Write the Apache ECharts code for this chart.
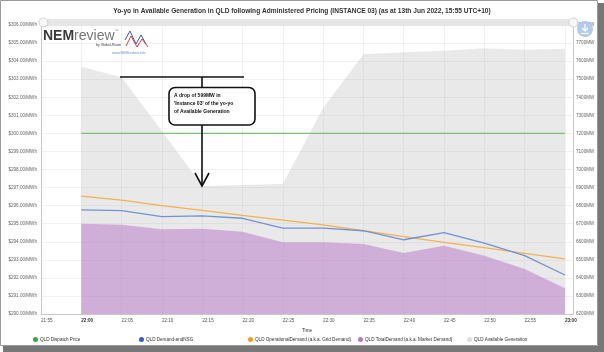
<!DOCTYPE html>
<html>
<head>
<meta charset="utf-8">
<script src="https://cdn.jsdelivr.net/npm/echarts@6/dist/echarts.min.js"></script>
<style>
  html, body { margin: 0; padding: 0; background: #fff; }
  #chart { width: 604px; height: 352px; }
</style>
</head>
<body>
<div id="chart"></div>
<script>
// 5-minute intervals, 22:00 - 23:00
const times = ['22:00', '22:05', '22:10', '22:15', '22:20', '22:25', '22:30',
  '22:35', '22:40', '22:45', '22:50', '22:55', '23:00'];
// $/MWh (left axis)
const dispatchPrice = [300, 300, 300, 300, 300, 300, 300, 300, 300, 300, 300, 300, 300];
// MW (right axis)
const demandAndNSG = [6776, 6772, 6739, 6743, 6730, 6675, 6675, 6661, 6611, 6650, 6593, 6523, 6416];
const operationalDemand = [6853, 6830, 6800, 6774, 6746, 6720, 6693, 6661, 6628, 6597, 6567, 6536, 6505];
const totalDemand = [6700, 6694, 6669, 6672, 6656, 6597, 6597, 6588, 6538, 6578, 6523, 6449, 6342];
const availableGen = [7569, 7511, 7213, 6909, 6914, 6920, 7340, 7638, 7649, 7658, 7671, 7663, 7669];

const seriesNames = ['QLD Dispatch Price', 'QLD Demand-andNSG',
  'QLD OperationalDemand (a.k.a. Grid Demand)', 'QLD TotalDemand (a.k.a. Market Demand)',
  'QLD Available Generation'];

// x axis counts minutes from 21:55
const START = 21 * 60 + 55;
function toMin(t) {
  const p = t.split(':');
  return parseInt(p[0], 10) * 60 + parseInt(p[1], 10) - START;
}
function pair(vals) {
  return vals.map((v, i) => [toMin(times[i]), v]);
}
function minLabel(v) {
  const m = START + v;
  const h = Math.floor(m / 60), mm = m % 60;
  return h + ':' + (mm < 10 ? '0' : '') + mm;
}

const FONT = 'Liberation Sans';
const chart = echarts.init(document.getElementById('chart'), null, { renderer: 'canvas' });

const legendLefts = [33, 139, 248, 358, 467];
const legendColors = ['#3fa33f', '#2f5fc4', '#f59a1b', '#b37ac9', '#dddddd'];

const option = {
  animation: false,
  backgroundColor: '#fff',
  textStyle: { fontFamily: FONT },
  title: {
    text: 'Yo-yo in Available Generation in QLD following Administered Pricing (INSTANCE 03) (as at 13th Jun 2022, 15:55 UTC+10)',
    left: 'center',
    top: 3,
    textStyle: { fontSize: 6.6, fontWeight: 'bold', color: '#333', fontFamily: FONT }
  },
  legend: seriesNames.map((n, i) => ({
    data: [{ name: n, itemStyle: { color: legendColors[i] } }],
    left: legendLefts[i],
    top: 337,
    icon: 'circle',
    itemWidth: 5,
    itemHeight: 5,
    itemGap: 2,
    padding: 0,
    selectedMode: false,
    textStyle: { fontSize: 4.6, color: '#333', fontFamily: FONT, padding: [0, 0, 0, -3] }
  })),
  grid: { left: 41, right: 31, top: 25, bottom: 38 },
  dataZoom: [{
    type: 'slider',
    xAxisIndex: 0,
    top: 19,
    height: 7,
    left: 41,
    right: 31,
    filterMode: 'none',
    showDataShadow: false,
    showDetail: false,
    brushSelect: false,
    zoomLock: true,
    borderColor: 'transparent',
    backgroundColor: '#e6e6e6',
    fillerColor: 'rgba(0,0,0,0)',
    handleIcon: 'circle',
    handleSize: '130%',
    handleStyle: { color: '#f7f7f7', borderColor: '#c8c8c8', borderWidth: 0.8 },
    moveHandleSize: 0
  }],
  xAxis: {
    type: 'value',
    min: 0,
    max: 66,
    interval: 5,
    name: 'Time',
    nameLocation: 'middle',
    nameGap: 14,
    nameTextStyle: { fontSize: 4.6, color: '#333', fontFamily: FONT },
    axisLine: { show: true, lineStyle: { color: '#c8c8c8' } },
    axisTick: { show: false },
    splitLine: { show: true, lineStyle: { color: '#ececec', width: 0.8 } },
    axisLabel: {
      align: 'left',
      margin: 4,
      fontSize: 4.6,
      color: '#555',
      fontFamily: FONT,
      formatter: function (v) {
        if (v % 5 !== 0) return '';
        const s = minLabel(v);
        return s.slice(-2) === '00' ? '{b|' + s + '}' : s;
      },
      rich: { b: { fontWeight: 'bold', fontSize: 4.6, color: '#333', fontFamily: FONT } }
    }
  },
  yAxis: [{
    type: 'value',
    position: 'left',
    min: 290,
    max: 306,
    interval: 1,
    axisLine: { show: true, lineStyle: { color: '#c8c8c8' } },
    axisTick: { show: false },
    splitLine: { show: true, lineStyle: { color: '#ececec', width: 0.8 } },
    axisLabel: {
      margin: 4,
      fontSize: 4.6,
      color: '#666',
      fontFamily: FONT,
      formatter: v => '$' + v.toFixed(2) + '/MWh'
    }
  }, {
    type: 'value',
    position: 'right',
    min: 6200,
    max: 7800,
    interval: 100,
    axisLine: { show: true, lineStyle: { color: '#c8c8c8' } },
    axisTick: { show: false },
    splitLine: { show: false },
    axisLabel: {
      margin: 3,
      fontSize: 4.6,
      color: '#666',
      fontFamily: FONT,
      formatter: v => v + 'MW'
    }
  }],
  series: [{
    name: seriesNames[4],
    type: 'line',
    yAxisIndex: 1,
    data: pair(availableGen),
    symbol: 'none',
    lineStyle: { width: 0 },
    itemStyle: { color: '#dddddd' },
    areaStyle: { color: 'rgba(190,190,190,0.48)', origin: 'start' },
    z: 1
  }, {
    name: seriesNames[3],
    type: 'line',
    yAxisIndex: 1,
    data: pair(totalDemand),
    symbol: 'none',
    lineStyle: { width: 0 },
    itemStyle: { color: '#b37ac9' },
    areaStyle: { color: 'rgba(183,122,200,0.76)', origin: 'start' },
    z: 2
  }, {
    name: seriesNames[2],
    type: 'line',
    yAxisIndex: 1,
    data: pair(operationalDemand),
    symbol: 'none',
    lineStyle: { width: 1.3, color: '#f3b24e' },
    itemStyle: { color: '#f59a1b' },
    z: 3
  }, {
    name: seriesNames[1],
    type: 'line',
    yAxisIndex: 1,
    data: pair(demandAndNSG),
    symbol: 'none',
    lineStyle: { width: 1.3, color: '#6f93d6' },
    itemStyle: { color: '#2f5fc4' },
    z: 4
  }, {
    name: seriesNames[0],
    type: 'line',
    yAxisIndex: 0,
    data: pair(dispatchPrice),
    symbol: 'none',
    lineStyle: { width: 1.2, color: '#79c079' },
    itemStyle: { color: '#3fa33f' },
    z: 5
  }],
  graphic: [
    // screenshot frame
    { type: 'rect', shape: { x: 3, y: 346, width: 601, height: 6 }, style: { fill: '#777' }, z: 90 },
    { type: 'rect', shape: { x: 598, y: 3, width: 6, height: 349 }, style: { fill: '#777' }, z: 90 },
    { type: 'rect', shape: { x: 0.5, y: 0.5, width: 597, height: 345 }, style: { fill: 'none', stroke: '#9a9a9a', lineWidth: 1 }, z: 91 },
    // NEMreview logo
    {
      type: 'text', left: 43, top: 29, z: 50,
      style: { text: '{a|NEM}{b|review}{c|™}', rich: {
        a: { fontSize: 14, fontWeight: 'bold', fill: '#3a3a3a', fontFamily: FONT },
        b: { fontSize: 14, fill: '#777', fontFamily: FONT },
        c: { fontSize: 4, fill: '#777', verticalAlign: 'top', fontFamily: FONT }
      } }
    },
    { type: 'text', left: 96, top: 43, z: 50, style: { text: 'by Global-Roam', fontSize: 3.5, fill: '#444', fontFamily: FONT } },
    { type: 'text', left: 112, top: 50.5, z: 50, style: { text: 'www.NEMreview.info', fontSize: 3.6, fill: '#6b8fd0', fontFamily: FONT } },
    { type: 'polyline', z: 50, shape: { points: [[125, 40], [130, 31], [136, 44], [141, 35], [146, 44]] }, style: { stroke: '#3a5fc4', lineWidth: 1, fill: 'none' } },
    { type: 'polyline', z: 50, shape: { points: [[126, 46], [131, 36], [137, 47], [142, 39], [148, 47]] }, style: { stroke: '#e0403a', lineWidth: 1, fill: 'none' } },
    // download button
    { type: 'circle', z: 60, shape: { cx: 585, cy: 29, r: 8 }, style: { fill: '#b3cbea' } },
    { type: 'polyline', z: 61, shape: { points: [[582, 28], [585, 31], [588, 28]] }, style: { stroke: '#fff', lineWidth: 1.2, fill: 'none' } },
    { type: 'line', z: 61, shape: { x1: 585, y1: 24, x2: 585, y2: 31 }, style: { stroke: '#fff', lineWidth: 1.2 } },
    { type: 'line', z: 61, shape: { x1: 581, y1: 33.5, x2: 589, y2: 33.5 }, style: { stroke: '#fff', lineWidth: 1.2 } },
    // annotation
    { type: 'line', z: 70, shape: { x1: 120, y1: 77, x2: 244, y2: 77 }, style: { stroke: '#111', lineWidth: 1.6 } },
    { type: 'line', z: 70, shape: { x1: 202, y1: 77, x2: 202, y2: 186 }, style: { stroke: '#111', lineWidth: 1.6 } },
    { type: 'polyline', z: 70, shape: { points: [[195, 173], [202, 186], [209, 173]] }, style: { stroke: '#111', lineWidth: 1.6, fill: 'none' } },
    { type: 'rect', z: 71, shape: { x: 169, y: 87.5, width: 86, height: 37.5, r: 6 }, style: { fill: '#fff', stroke: '#111', lineWidth: 1.6 } },
    {
      type: 'text', z: 72, left: 174, top: 92,
      style: {
        text: "A drop of 599MW in\n'Instance 03' of the yo-yo\nof Available Generation",
        fontSize: 5, lineHeight: 8, fontWeight: 'bold', fill: '#111', fontFamily: FONT
      }
    }
  ]
};

chart.setOption(option);
</script>
</body>
</html>
